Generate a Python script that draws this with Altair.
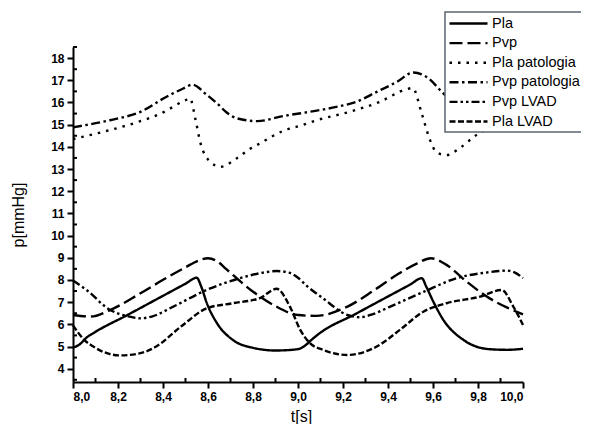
import altair as alt
import pandas as pd

names = ["Pla", "Pvp", "Pla patologia", "Pvp patologia", "Pvp LVAD", "Pla LVAD"]

pla_t = [8.00, 8.03, 8.06, 8.09, 8.24, 8.39, 8.50, 8.55, 8.57, 8.595, 8.64, 8.71, 8.80, 8.90,
         9.00, 9.03, 9.06, 9.09, 9.26, 9.41, 9.50, 9.55, 9.57, 9.60, 9.646, 9.735, 9.85, 9.93, 10.0]
pla_p = [4.95, 5.10, 5.40, 5.60, 6.41, 7.23, 7.83, 8.10, 7.70, 6.95, 6.05, 5.30, 4.94, 4.82,
         4.88, 5.03, 5.30, 5.55, 6.49, 7.31, 7.80, 8.08, 7.70, 7.05, 6.20, 5.30, 4.88, 4.85, 4.90]

pvp_t = [8.00, 8.08, 8.16, 8.30, 8.42, 8.50, 8.56, 8.60, 8.64, 8.68, 8.79, 8.90, 9.00,
         9.08, 9.22, 9.34, 9.45, 9.53, 9.59, 9.66, 9.75, 9.85, 9.93, 10.0]
pvp_p = [6.42, 6.35, 6.62, 7.40, 8.12, 8.57, 8.88, 8.98, 8.85, 8.50, 7.55, 6.82, 6.42,
         6.38, 6.80, 7.55, 8.30, 8.75, 8.98, 8.68, 7.92, 7.18, 6.75, 6.45]

plapat_t = [8.00, 8.135, 8.27, 8.39, 8.50, 8.52, 8.545, 8.565, 8.61, 8.655, 8.73, 8.79, 8.83,
            8.935, 9.01, 9.083, 9.23, 9.364, 9.483, 9.51, 9.55, 9.587, 9.616, 9.66, 9.72,
            9.795, 9.90, 10.0]
plapat_p = [14.35, 14.68, 15.06, 15.50, 16.10, 16.18, 15.20, 14.23, 13.33, 13.10, 13.50, 13.93, 14.15,
            14.72, 14.95, 15.20, 15.58, 16.03, 16.60, 16.65, 15.50, 14.30, 13.75, 13.63, 13.95,
            14.55, 15.00, 15.30]

pvppat_t = [8.00, 8.164, 8.30, 8.416, 8.49, 8.53, 8.594, 8.64, 8.683, 8.73, 8.82, 8.935,
            9.053, 9.17, 9.26, 9.35, 9.44, 9.513, 9.57, 9.646, 9.70, 9.76, 9.85, 10.0]
pvppat_p = [14.88, 15.20, 15.58, 16.26, 16.63, 16.80, 16.35, 15.96, 15.55, 15.28, 15.16, 15.39,
            15.58, 15.80, 16.03, 16.48, 16.93, 17.35, 17.16, 16.41, 15.90, 15.60, 15.55, 15.75]

pvplvad_t = [8.00, 8.06, 8.16, 8.25, 8.30, 8.35, 8.446, 8.594, 8.742, 8.83, 8.905, 8.96, 9.00,
             9.04, 9.11, 9.22, 9.275, 9.33, 9.41, 9.56, 9.705, 9.85, 9.93, 9.96, 10.0]
pvplvad_p = [7.97, 7.55, 6.68, 6.35, 6.27, 6.35, 6.80, 7.55, 8.08, 8.30, 8.40, 8.33, 8.10,
             7.72, 7.18, 6.42, 6.32, 6.45, 6.80, 7.47, 8.08, 8.35, 8.42, 8.35, 8.08]

plalvad_t = [8.00, 8.05, 8.09, 8.15, 8.21, 8.30, 8.37, 8.48, 8.594, 8.71, 8.83, 8.905, 8.964,
             9.01, 9.053, 9.11, 9.22, 9.35, 9.453, 9.557, 9.66, 9.81, 9.905, 9.957, 10.0]
plalvad_p = [5.95, 5.30, 5.00, 4.70, 4.60, 4.70, 5.00, 5.90, 6.72, 6.95, 7.18, 7.60, 6.80,
             5.75, 5.15, 4.85, 4.62, 5.00, 5.75, 6.57, 6.95, 7.25, 7.55, 6.80, 5.97]

x_major = [8.0, 8.2, 8.4, 8.6, 8.8, 9.0, 9.2, 9.4, 9.6, 9.8, 10.0]
x_minor = [8.1, 8.3, 8.5, 8.7, 8.9, 9.1, 9.3, 9.5, 9.7, 9.9]
y_major = [4, 5, 6, 7, 8, 9, 10, 11, 12, 13, 14, 15, 16, 17, 18]
y_minor = [3.5, 4.5, 5.5, 6.5, 7.5, 8.5, 9.5, 10.5, 11.5, 12.5, 13.5, 14.5, 15.5, 16.5, 17.5, 18.5]

series = [(names[0], pla_t, pla_p), (names[1], pvp_t, pvp_p), (names[2], plapat_t, plapat_p),
          (names[3], pvppat_t, pvppat_p), (names[4], pvplvad_t, pvplvad_p), (names[5], plalvad_t, plalvad_p)]
rows = []
for nm, ts, ps in series:
    for i, (t, p) in enumerate(zip(ts, ps)):
        rows.append({"t": t, "p": p, "series": nm, "i": i})
df = pd.DataFrame(rows)

dashes = [[1, 0], [13, 5], [2.5, 6], [9, 3.5, 2.5, 3.5], [8, 3, 2.5, 3, 2.5, 3], [6, 2.5]]

W, H = 450, 335
xs = alt.Scale(domain=[8, 10], nice=False, zero=False)
ys = alt.Scale(domain=[3.4, 18.5], nice=False, zero=False)
FONT = "Liberation Sans"

x_axis = alt.Axis(values=x_major, labelExpr="replace(format(datum.value, '.1f'), '.', ',')",
                  title="t[s]", titleX=228, titleY=34, titleAlign="center", titleBaseline="middle")
y_axis = alt.Axis(values=y_major, format="d", title="p[mmHg]", titleX=-55, titleY=H / 2,
                  titleAngle=270, titleAlign="center", titleBaseline="middle")

lines = alt.Chart(df).mark_line(color="black", strokeWidth=2.4, interpolate="monotone").encode(
    x=alt.X("t:Q", scale=xs, axis=x_axis),
    y=alt.Y("p:Q", scale=ys, axis=y_axis),
    strokeDash=alt.StrokeDash("series:N", scale=alt.Scale(domain=names, range=dashes),
        legend=alt.Legend(title=None, orient="none", legendX=372, legendY=-35,
                          symbolType="stroke", symbolSize=1444, symbolStrokeWidth=2.4,
                          symbolStrokeColor="black", clipHeight=17, rowPadding=2.6,
                          labelFont=FONT, labelFontSize=14.5, labelColor="black",
                          labelOffset=3, labelLimit=400, padding=3)),
    order="i:Q",
)

# legend frame: white box hiding the lines under the legend, running past the right edge
frame = alt.Chart(pd.DataFrame({"k": [0]})).mark_rect(
    fill="white", stroke="#5a6470", strokeWidth=1.5
).encode(x=alt.value(372), x2=alt.value(540), y=alt.value(-35), y2=alt.value(85))

xminor = alt.Chart(pd.DataFrame({"t": x_minor})).mark_rule(color="black", strokeWidth=2).encode(
    x=alt.X("t:Q", scale=xs, axis=x_axis),
    y=alt.value(H), y2=alt.value(H - 4),
)
yminor = alt.Chart(pd.DataFrame({"p": y_minor})).mark_rule(color="black", strokeWidth=2).encode(
    y=alt.Y("p:Q", scale=ys, axis=y_axis),
    x=alt.value(0), x2=alt.value(4),
)

chart = alt.layer(lines, xminor, yminor, frame).properties(
    width=W, height=H,
    autosize=alt.AutoSizeParams(type="none"),
    padding={"left": 65, "top": 39, "right": 58, "bottom": 42},
).configure_view(stroke=None).configure_axis(
    grid=False, domainColor="black", domainWidth=2, tickColor="black", tickWidth=2,
    tickSize=6, labelFont=FONT, labelFontSize=12, labelFontWeight="bold",
    labelColor="black", labelPadding=3, titleFont=FONT, titleFontSize=16,
    titleFontWeight="normal", titleColor="black",
)

chart.save("out.html", embed_options={"renderer": "svg", "actions": False})
